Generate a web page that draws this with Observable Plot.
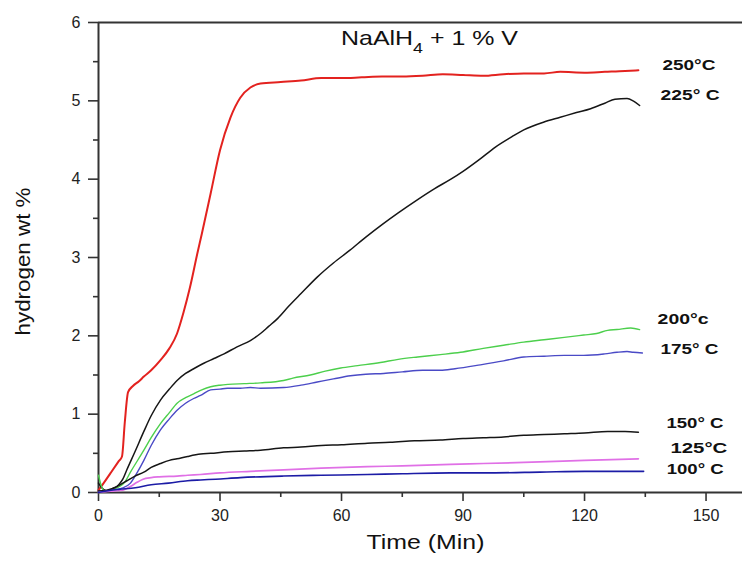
<!DOCTYPE html>
<html><head><meta charset="utf-8">
<script src="https://cdn.jsdelivr.net/npm/d3@7"></script>
<script src="https://cdn.jsdelivr.net/npm/@observablehq/plot@0.6"></script>
<style>body{margin:0;background:#fff;} svg{display:block}</style>
</head><body><div id="chart"></div>
<script>
// ---- data ----
const seriesNames = ["250°C", "225° C", "200°c", "175° C", "150° C", "125°C", "100° C"];

const t250 = [0,1,3,5,5.8,6.5,7.3,8.5,10,11.2,13,15.3,17.5,19.4,21,22.5,24.4,25.5,27.7,30,32.6,35,37.5,40,45,50,55,60,65,70,75,80,85,90,95,100,105,110,114,120,125,130,133.3];
const h250 = [0.03,0.1,0.25,0.4,0.46,0.9,1.28,1.36,1.42,1.48,1.56,1.69,1.84,2.03,2.3,2.6,3.05,3.3,3.82,4.37,4.79,5.04,5.17,5.22,5.24,5.26,5.29,5.29,5.3,5.31,5.31,5.32,5.34,5.33,5.32,5.34,5.35,5.35,5.37,5.36,5.37,5.38,5.39];

const t225 = [0,0.8,2,3.5,5,6,7,9,11.2,13,15.3,17.5,19.4,21.5,23.5,26,28.5,31,34.2,37.5,40,42,44.2,47,50,54,58,62,66,70,74,78.8,83,87,90,94,98,102,105,110,114,118,121.5,125,127.5,130.5,132,133.6];
const h225 = [0.12,0.06,0.02,0.05,0.1,0.17,0.29,0.52,0.78,0.98,1.18,1.32,1.43,1.52,1.58,1.65,1.71,1.77,1.86,1.94,2.03,2.12,2.22,2.38,2.54,2.75,2.93,3.09,3.26,3.42,3.57,3.74,3.88,4.0,4.1,4.25,4.41,4.54,4.63,4.73,4.79,4.85,4.9,4.97,5.02,5.03,5.0,4.94];

const t200 = [0,0.6,1.5,3,5,6.3,8,11.2,13,15.3,17.5,19.4,21.5,23.5,25.5,27.7,30,32,36,40,45.7,48,52.3,56,59.8,64,69.6,74,78.8,84.4,89.4,95,100,105,110,115,119.8,123,125.7,128,131.4,133.6];
const h200 = [0.22,0.1,0.02,0.03,0.07,0.12,0.27,0.54,0.7,0.88,1.02,1.14,1.21,1.26,1.31,1.35,1.37,1.38,1.39,1.4,1.43,1.46,1.5,1.55,1.59,1.62,1.66,1.7,1.73,1.76,1.79,1.84,1.88,1.92,1.95,1.98,2.01,2.03,2.07,2.08,2.1,2.08];

const t175 = [0,3,6,7.9,9.5,11.2,13,15.3,17.5,19.4,21.5,23.5,25.2,27.7,30,31.8,35,37.5,40,45.7,50,54,58,62.2,66,70.4,75,80,84.4,88,94.3,100,105,110,115,119.8,125,128,130.5,132,134.3];
const h175 = [0.02,0.03,0.06,0.12,0.25,0.41,0.6,0.8,0.94,1.05,1.14,1.2,1.24,1.31,1.32,1.33,1.33,1.34,1.33,1.34,1.37,1.41,1.45,1.49,1.51,1.52,1.54,1.56,1.56,1.58,1.63,1.68,1.73,1.74,1.75,1.75,1.77,1.79,1.8,1.79,1.78];

const t150 = [0,2,4,5.4,7,9,11.2,13,15.3,17.5,19.4,22,25.2,27.7,32,36,40,45.7,50,55,60,66.4,72,78,84.4,90,95,100,105,110,115,120,125.7,130,133.3];
const h150 = [0.02,0.03,0.06,0.1,0.15,0.21,0.26,0.32,0.37,0.41,0.43,0.46,0.49,0.5,0.52,0.53,0.54,0.57,0.58,0.6,0.61,0.63,0.64,0.66,0.67,0.69,0.7,0.71,0.73,0.74,0.75,0.76,0.78,0.78,0.77];

const t125 = [0,1.7,4,6,8,9.5,11,13,15,19.4,22,25.2,30,37.5,45.7,55,66.4,75,86.9,95,109,120,133.3];
const h125 = [0,0.01,0.02,0.03,0.08,0.13,0.17,0.19,0.2,0.21,0.22,0.23,0.25,0.27,0.29,0.31,0.33,0.34,0.36,0.37,0.39,0.41,0.43];

const t100 = [0,2,5,9.1,13,17.3,22,25.2,28.9,35,45.7,55,66.4,75,86.9,95,109,120,134.6];
const h100 = [0,0.02,0.04,0.06,0.1,0.12,0.15,0.16,0.17,0.19,0.21,0.22,0.23,0.24,0.25,0.25,0.26,0.27,0.27];

const xMajorTicks = [0, 30, 60, 90, 120, 150];
const xMinorTicks = [15, 45, 75, 105, 135];
const yMajorTicks = [0, 1, 2, 3, 4, 5, 6];
const yMinorTicks = [0.5, 1.5, 2.5, 3.5, 4.5, 5.5];

const titleText = "NaAlH4 + 1 % V";
const xLabel = "Time (Min)";
const yLabel = "hydrogen wt %";

// ---- styles ----
const colors = ["#e3221f", "#161616", "#4ccf4c", "#4a4ac6", "#161616", "#e070e6", "#1c1ca6"];
const lineWidths = [2.0, 1.5, 1.4, 1.4, 1.5, 1.7, 1.6];
const labelDx = [24, 21, 18, 18, 28, 32, 23];
const labelDy = [0, -6, -6, 1, -4, -6, 3];
const labelWidths = [53, 59, 51, 58, 57, 57, 57];

const raw = [[t250,h250],[t225,h225],[t200,h200],[t175,h175],[t150,h150],[t125,h125],[t100,h100]];
const series = raw.map(([t, h], i) => t.map((x, j) => ({x, y: h[j], s: seriesNames[i]})));

const axisStyle = {stroke: "#333", strokeWidth: 1.6, color: "#222"};

const marks = [
  Plot.ruleX([0], {stroke: "#333", strokeWidth: 2}),
  Plot.ruleY([0], {stroke: "#333", strokeWidth: 2}),
  Plot.ruleY([6], {stroke: "#333", strokeWidth: 2}),
  Plot.axisY(yMajorTicks, {tickSize: 10, tickPadding: 8, tickFormat: d => String(d), label: null, fontSize: 16, ...axisStyle}),
  Plot.axisY(yMinorTicks, {tickSize: 5, tickFormat: () => "", label: null, ...axisStyle}),
  Plot.axisX(xMajorTicks, {tickSize: 9, tickPadding: 8, tickFormat: d => String(d), label: null, fontSize: 16, ...axisStyle}),
  Plot.axisX(xMinorTicks, {tickSize: 5, tickFormat: () => "", label: null, ...axisStyle}),
  ...series.map((rows, i) => Plot.line(rows, {x: "x", y: "y", stroke: colors[i], strokeWidth: lineWidths[i], curve: "monotone-x"})),
  ...series.map((rows, i) => Plot.text([rows[rows.length - 1]], {
    x: "x", y: "y", text: "s", dx: labelDx[i], dy: labelDy[i],
    textAnchor: "start", lineAnchor: "middle", fontWeight: "bold", fontSize: 15, fill: "#111"
  })),
  Plot.text([titleText], {frameAnchor: "top", dx: 9, dy: 22, lineAnchor: "middle", textAnchor: "middle", fontSize: 21, fill: "#111"}),
  Plot.text([xLabel], {frameAnchor: "bottom", dx: 5, dy: 56, lineAnchor: "middle", textAnchor: "middle", fontSize: 21, fill: "#111"}),
  Plot.text([yLabel], {frameAnchor: "left", rotate: -90, dx: -69, dy: 4, lineAnchor: "middle", textAnchor: "middle", fontSize: 20, fill: "#111"})
];

const plot = Plot.plot({
  width: 742, height: 561,
  marginLeft: 98, marginRight: 0, marginTop: 22, marginBottom: 69,
  x: {domain: [0, 159]},
  y: {domain: [0, 6]},
  style: {fontFamily: "'Liberation Sans', Arial, sans-serif", fontSize: "16px", color: "#222", background: "#fff"},
  marks
});
document.getElementById("chart").append(plot);

// ---- typographic touches: subscript and horizontal stretch to match the original lettering ----
const targets = new Map([[titleText, 177], [xLabel, 118], [yLabel, 148]]);
seriesNames.forEach((n, i) => targets.set(n, labelWidths[i]));

function stretchTo(el, target) {
  const w = el.getComputedTextLength();
  if (!w) return;
  const k = target / w;
  const x = +el.getAttribute("x") || 0, y = +el.getAttribute("y") || 0;
  el.removeAttribute("x"); el.removeAttribute("y");
  const tr = el.getAttribute("transform") || "";
  el.setAttribute("transform", `${tr} translate(${x},${y}) scale(${k},1)`);
}

d3.select(plot).selectAll("text").each(function() {
  const s = this.textContent;
  if (!targets.has(s)) return;
  if (s === titleText) {
    const el = d3.select(this);
    el.text(null);
    el.append("tspan").text("NaAlH");
    el.append("tspan").attr("dy", 8).attr("font-size", 15).text("4");
    el.append("tspan").attr("dy", -8).text(" + 1 % V");
  }
  stretchTo(this, targets.get(s));
});
</script>
</body></html>
